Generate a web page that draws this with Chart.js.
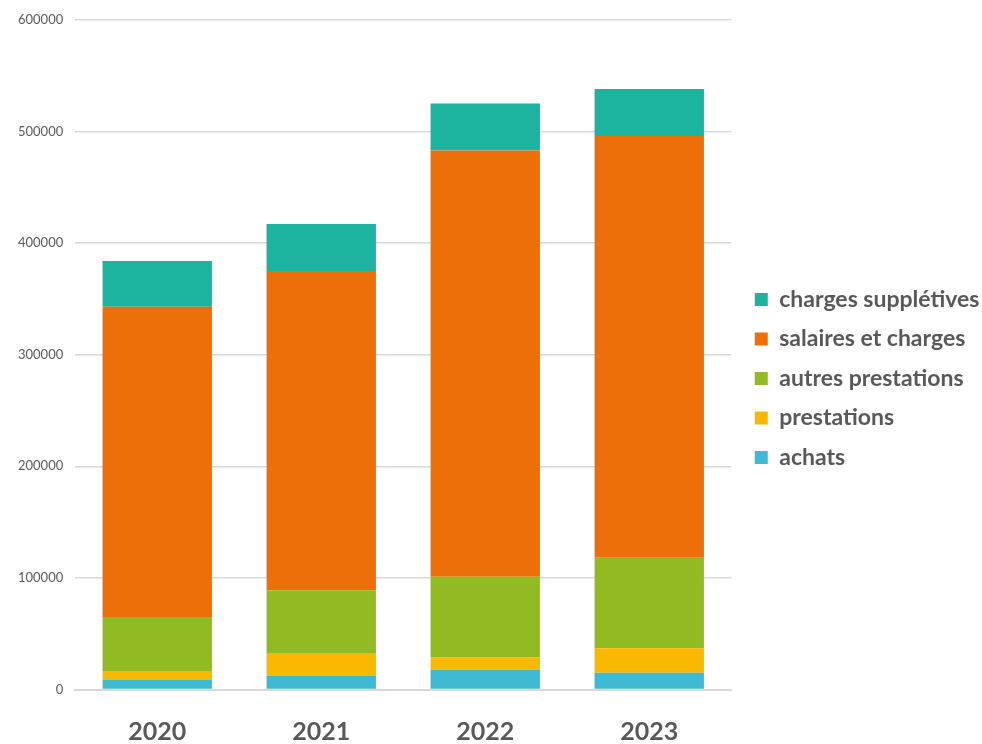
<!doctype html>
<html lang="fr">
<head>
	<meta charset="utf-8">
	<title>Charges par année</title>
	<style>
		* { margin: 0; padding: 0; }
		body { background: #ffffff; }
		.chartBox { width: 982px; height: 744px; }
	</style>
</head>
<body>
	<div class="chartBox">
		<canvas id="myChart"></canvas>
	</div>

	<script src="https://cdn.jsdelivr.net/npm/chart.js"></script>
	<script>
		/*=====Data=====*/
		const years = ['2020', '2021', '2022', '2023'];
		const achats = [9000, 12500, 18000, 15000];
		const prestations = [7000, 19500, 11000, 22000];
		const autresPrestations = [49000, 57000, 72000, 81000];
		const salairesCharges = [278000, 286000, 382000, 378000];
		const chargesSuppletives = [41000, 42000, 42000, 42000];
		const yTicks = [0, 100000, 200000, 300000, 400000, 500000, 600000];
		/*=====End Data=====*/

		const txt = '#595959';

		const data = {
			labels: years,
			datasets: [
				{ label: 'achats', data: achats, backgroundColor: '#40b9d3' },
				{ label: 'prestations', data: prestations, backgroundColor: '#fbb800' },
				{ label: 'autres prestations', data: autresPrestations, backgroundColor: '#92bb23' },
				{ label: 'salaires et charges', data: salairesCharges, backgroundColor: '#ed6f0a' },
				{ label: 'charges supplétives', data: chargesSuppletives, backgroundColor: '#1cb39f' }
			]
		};

		// nudge the legend a bit right and up
		const legendShift = {
			id: 'legendShift',
			afterLayout: (chart) => {
				chart.legend.left += 7;
				chart.legend.right += 7;
				chart.legend.top -= 8.5;
				chart.legend.bottom -= 8.5;
			}
		};

		const config = {
			type: 'bar',
			data,
			options: {
				responsive: true,
				maintainAspectRatio: false,
				animation: false,
				barPercentage: 0.667,
				categoryPercentage: 1,
				layout: { padding: { top: 7, right: 9, bottom: -23, left: 6 } },
				plugins: {
					tooltip: { enabled: false },
					legend: {
						position: 'right',
						reverse: true,
						labels: {
							boxWidth: 13,
							boxHeight: 13,
							padding: 16.5,
							color: txt,
							font: { family: 'Lato', size: 23, weight: 'bold' }
						}
					}
				},
				scales: {
					x: {
						stacked: true,
						grid: { display: false },
						border: { display: true, color: '#d9d9d9', width: 2 },
						ticks: {
							color: txt,
							padding: 26,
							font: { family: 'Lato', size: 25, weight: 'bold', lineHeight: 0.7 }
						}
					},
					y: {
						stacked: true,
						min: 0,
						max: 600000,
						afterBuildTicks: (axis) => {
							axis.ticks = yTicks.map(v => ({ value: v }));
						},
						grid: { color: '#d9d9d9', lineWidth: 1.5, drawTicks: false },
						border: { display: false },
						ticks: {
							color: txt,
							padding: 12,
							font: { family: 'Lato', size: 13 },
							callback: (v) => String(v)
						}
					}
				}
			},
			plugins: [legendShift]
		};

		const myChart = new Chart(document.getElementById('myChart'), config);
	</script>
</body>
</html>
